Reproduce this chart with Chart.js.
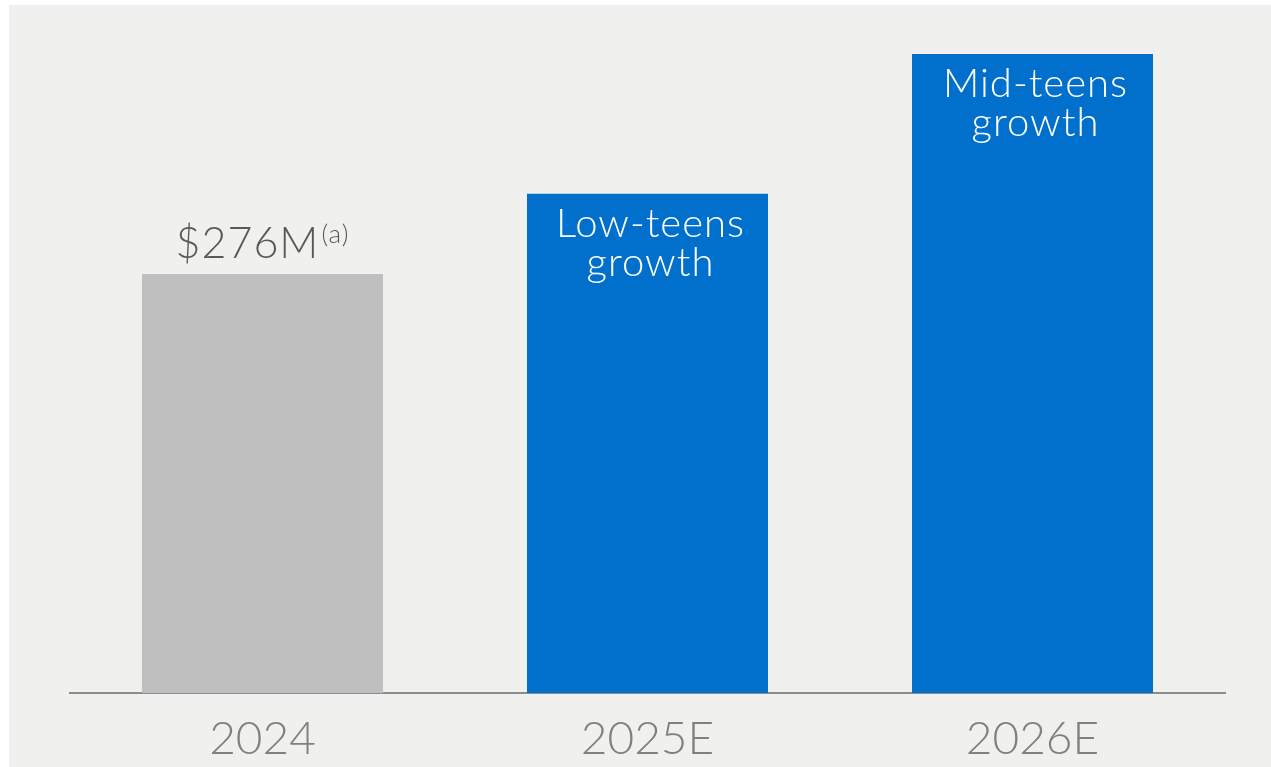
<!DOCTYPE html>
<html>
<head>
<meta charset="utf-8">
<script src="https://cdn.jsdelivr.net/npm/chart.js@4/dist/chart.umd.min.js"></script>
<style>
  html, body { margin: 0; padding: 0; background: #ffffff; }
  #wrap { position: absolute; left: 9px; top: 5px; width: 1262px; height: 762px; background: #f0f0ee; }
</style>
</head>
<body>
<div id="wrap"><canvas id="chart"></canvas></div>
<script>
const years = ['2024', '2025E', '2026E'];
const revenue = [276, 329, 421];
const barColors = ['#bfbfbf', '#0070cc', '#0070cc'];
const barNotes = [null, ['Low-teens', 'growth'], ['Mid-teens', 'growth']];

const FONT = 'Lato, "Open Sans", sans-serif';

// value label above the first bar, growth notes inside the forecast bars
const barText = {
  id: 'barText',
  afterDatasetsDraw(chart) {
    const ctx = chart.ctx;
    const bars = chart.getDatasetMeta(0).data;
    ctx.save();
    ctx.letterSpacing = '1px';
    bars.forEach((bar, i) => {
      if (barNotes[i]) {
        ctx.fillStyle = '#ffffff';
        ctx.font = '300 40px ' + FONT;
        ctx.textAlign = 'center';
        ctx.textBaseline = 'alphabetic';
        barNotes[i].forEach((line, j) => {
          ctx.fillText(line, bar.x + 3, bar.y + 43 + j * 39);
        });
      } else {
        const main = '$' + revenue[i] + 'M';
        const sup = '(a)';
        ctx.font = '300 43px ' + FONT;
        const w1 = ctx.measureText(main).width;
        ctx.font = '300 26px ' + FONT;
        const w2 = ctx.measureText(sup).width;
        const x0 = bar.x - (w1 + w2 + 2) / 2;
        ctx.textAlign = 'left';
        ctx.textBaseline = 'alphabetic';
        ctx.fillStyle = '#595959';
        ctx.font = '300 43px ' + FONT;
        ctx.fillText(main, x0, bar.y - 16);
        ctx.font = '300 26px ' + FONT;
        ctx.fillText(sup, x0 + w1 + 2, bar.y - 31);
      }
    });
    ctx.restore();
  }
};

new Chart(document.getElementById('chart'), {
  type: 'bar',
  data: {
    labels: years,
    datasets: [{
      data: revenue,
      backgroundColor: barColors,
      borderWidth: 0,
      categoryPercentage: 1,
      barPercentage: 0.626
    }]
  },
  options: {
    responsive: true,
    maintainAspectRatio: false,
    animation: false,
    layout: { padding: { left: 61, right: 46, top: 49, bottom: 0 } },
    plugins: {
      legend: { display: false },
      tooltip: { enabled: false }
    },
    scales: {
      x: {
        grid: { display: false, drawTicks: false },
        border: { display: true, color: '#8c8c8c', width: 2 },
        ticks: {
          color: '#808080',
          font: { family: FONT, size: 46, weight: '300' },
          padding: 19
        },
        afterFit(scale) {
          scale.height = 74;
        }
      },
      y: {
        display: false,
        min: 0,
        max: 421
      }
    }
  },
  plugins: [barText]
});
</script>
</body>
</html>
